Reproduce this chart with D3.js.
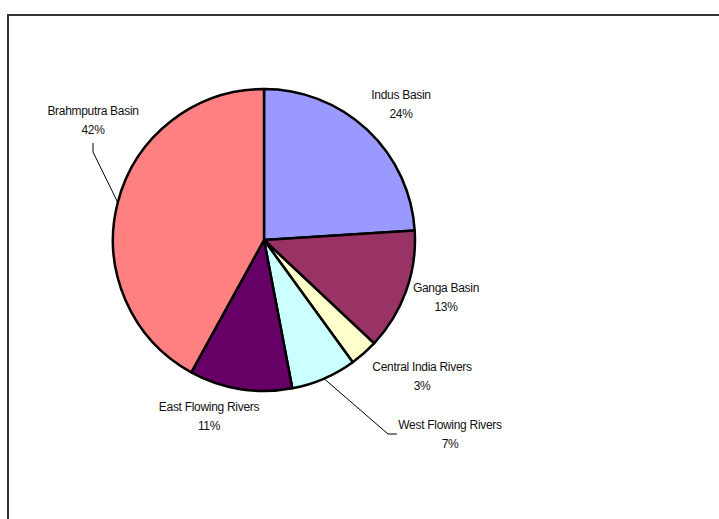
<!DOCTYPE html>
<html>
<head>
<meta charset="utf-8">
<script src="https://cdn.jsdelivr.net/npm/d3@7"></script>
<style>
  body { margin: 0; background: #fff; }
  text { font-family: "Liberation Sans", Arial, sans-serif; font-size: 12px; letter-spacing: -0.3px; fill: #111; }
</style>
</head>
<body>
<svg id="chart" width="719" height="519"></svg>
<script>
const basins = ["Indus Basin", "Ganga Basin", "Central India Rivers", "West Flowing Rivers", "East Flowing Rivers", "Brahmputra Basin"];
const shares = [24, 13, 3, 7, 11, 42];
const colours = ["#9999ff", "#993366", "#ffffcc", "#ccffff", "#660066", "#ff8080"];

// label placement, relative to pie centre (layout only)
const labelOffsets = [[137, -136], [182, 57], [158, 136], [186, 194], [-55, 176], [-171, -120]];

const CX = 264, CY = 240, R = 151;

const svg = d3.select("#chart");

// chart area frame
svg.append("rect")
  .attr("x", 8).attr("y", 15)
  .attr("width", 800).attr("height", 600)
  .attr("fill", "none")
  .attr("stroke", "#333")
  .attr("stroke-width", 2);

const data = basins.map((b, i) => ({ name: b, value: shares[i], color: colours[i], off: labelOffsets[i] }));

const pie = d3.pie().sort(null).value(d => d.value);
const arc = d3.arc().innerRadius(0).outerRadius(R);
const edge = d3.arc().innerRadius(R).outerRadius(R);

const g = svg.append("g").attr("transform", `translate(${CX},${CY})`);
const arcs = pie(data);

g.selectAll("path.slice")
  .data(arcs)
  .join("path")
  .attr("class", "slice")
  .attr("d", arc)
  .attr("fill", d => d.data.color)
  .attr("stroke", "#000")
  .attr("stroke-width", 2.5)
  .attr("stroke-linejoin", "round");

// leader lines for labels placed away from their slice
const leaders = arcs.filter(d => d.data.name === "West Flowing Rivers" || d.data.name === "Brahmputra Basin");
g.selectAll("polyline.leader")
  .data(leaders)
  .join("polyline")
  .attr("class", "leader")
  .attr("fill", "none")
  .attr("stroke", "#000")
  .attr("stroke-width", 1)
  .attr("points", d => {
    const [ex, ey] = edge.centroid(d);
    const [lx, ly] = d.data.off;
    if (d.data.name === "West Flowing Rivers") {
      const hx = lx - 62, hy = ly;
      return [[ex, ey], [hx, hy], [hx + 9, hy]].map(p => p.join(",")).join(" ");
    }
    const vx = lx, vy = ly + 23;
    return [[ex, ey], [vx, vy + 9], [vx, vy]].map(p => p.join(",")).join(" ");
  });

const labels = g.selectAll("text.lbl")
  .data(arcs)
  .join("text")
  .attr("class", "lbl")
  .attr("text-anchor", "middle")
  .attr("transform", d => `translate(${d.data.off[0]},${d.data.off[1]})`);

labels.append("tspan").attr("x", 0).attr("y", -5).text(d => d.data.name);
labels.append("tspan").attr("x", 0).attr("y", 14).text(d => d.data.value + "%");
</script>
</body>
</html>
